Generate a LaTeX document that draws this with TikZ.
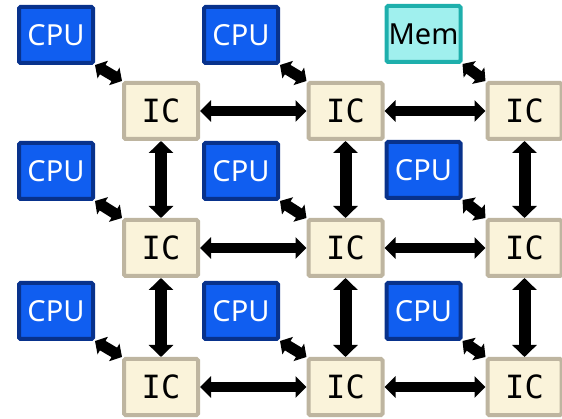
\documentclass[tikz,border=0pt]{standalone}
\usepackage{fontspec}
\setsansfont{Noto Sans}
\setmonofont{DejaVu Sans Mono}
\usetikzlibrary{arrows.meta}
\definecolor{cpufill}{RGB}{16,94,240}
\definecolor{cpuline}{RGB}{8,50,140}
\definecolor{icfill}{RGB}{250,243,218}
\definecolor{icline}{RGB}{190,181,160}
\definecolor{memfill}{RGB}{160,240,238}
\definecolor{memline}{RGB}{30,175,172}
\tikzset{
  box/.style={rectangle, rounded corners=1.5pt, line width=4pt, minimum width=74pt, minimum height=56pt, inner sep=0pt},
  cpu/.style={box, draw=cpuline, fill=cpufill, text=white, font=\sffamily\fontsize{29}{29}\selectfont},
  mem/.style={box, draw=memline, fill=memfill, text=black, font=\sffamily\fontsize{29}{29}\selectfont},
  ic/.style={box, draw=icline, fill=icfill, text=black, font=\ttfamily\fontsize{32}{32}\selectfont},
  hlink/.style={line width=10pt, {Triangle[width=21pt,length=11pt]}-{Triangle[width=21pt,length=11pt]}},
  vlink/.style={line width=12pt, {Triangle[width=24pt,length=12pt]}-{Triangle[width=24pt,length=12pt]}},
  dlink/.style={line width=11pt, {Triangle[width=20pt,length=9pt]}-{Triangle[width=20pt,length=9pt]}}
}
\begin{document}
\begin{tikzpicture}[x=1pt,y=-1pt]
\useasboundingbox (0,0) rectangle (562,419);
% CPUs and memory
\node[cpu] (c11) at (56,35) {CPU};
\node[cpu] (c12) at (241,35) {CPU};
\node[mem] (m13) at (423.5,34) {Mem};
\node[cpu] (c21) at (56,171) {CPU};
\node[cpu] (c22) at (241,171) {CPU};
\node[cpu] (c23) at (423.5,170) {CPU};
\node[cpu] (c31) at (56,311) {CPU};
\node[cpu] (c32) at (241,311) {CPU};
\node[cpu] (c33) at (423.5,311) {CPU};
% ICs
\node[ic] (i11) at (161,111) {IC};
\node[ic] (i12) at (345.5,111) {IC};
\node[ic] (i13) at (524.5,111) {IC};
\node[ic] (i21) at (161,248) {IC};
\node[ic] (i22) at (345.5,248) {IC};
\node[ic] (i23) at (524.5,248) {IC};
\node[ic] (i31) at (161,387) {IC};
\node[ic] (i32) at (345.5,387) {IC};
\node[ic] (i33) at (524.5,387) {IC};
% horizontal
\draw[hlink] (i11.east) -- (i12.west);
\draw[hlink] (i12.east) -- (i13.west);
\draw[hlink] (i21.east) -- (i22.west);
\draw[hlink] (i22.east) -- (i23.west);
\draw[hlink] (i31.east) -- (i32.west);
\draw[hlink] (i32.east) -- (i33.west);
% vertical
\draw[vlink] (i11.south) -- (i21.north);
\draw[vlink] (i12.south) -- (i22.north);
\draw[vlink] (i13.south) -- (i23.north);
\draw[vlink] (i21.south) -- (i31.north);
\draw[vlink] (i22.south) -- (i32.north);
\draw[vlink] (i23.south) -- (i33.north);
% diagonal
\draw[dlink] (c11.south east) -- (i11.north west);
\draw[dlink] (c12.south east) -- (i12.north west);
\draw[dlink] (m13.south east) -- (i13.north west);
\draw[dlink] (c21.south east) -- (i21.north west);
\draw[dlink] (c22.south east) -- (i22.north west);
\draw[dlink] (c23.south east) -- (i23.north west);
\draw[dlink] (c31.south east) -- (i31.north west);
\draw[dlink] (c32.south east) -- (i32.north west);
\draw[dlink] (c33.south east) -- (i33.north west);
\end{tikzpicture}
\end{document}
